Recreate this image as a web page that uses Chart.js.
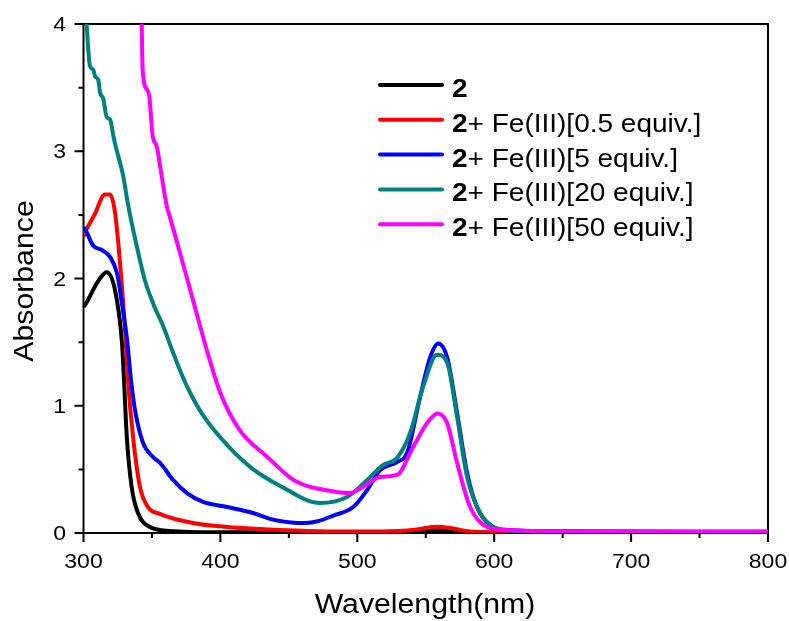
<!DOCTYPE html>
<html>
<head>
<meta charset="utf-8">
<script src="https://cdn.jsdelivr.net/npm/chart.js@4.4.1/dist/chart.umd.min.js"></script>
<style>
  html, body { margin: 0; padding: 0; background: #fff; }
  #wrap { width: 789px; height: 621px; }
</style>
</head>
<body>
<div id="wrap"><canvas id="absChart" width="789" height="621"></canvas></div>
<script>
// legend text: bold part + normal part
const seriesBold = ["2", "2", "2", "2", "2"];
const seriesRest = ["", "+ Fe(III)[0.5 equiv.]", "+ Fe(III)[5 equiv.]", "+ Fe(III)[20 equiv.]", "+ Fe(III)[50 equiv.]"];
const seriesColors = ["#000000", "#ff0000", "#0000ff", "#008080", "#ff00ff"];

// compound 2 alone
const wlFree  = [300, 301, 308, 312, 317, 323, 328, 329.6, 331.6, 335.2, 339.8, 348.6, 363, 400, 500, 540, 558, 575, 600, 800];
const absFree = [1.78, 1.79, 1.93, 2.0, 2.05, 1.91, 1.51, 1.2, 0.76, 0.36, 0.157, 0.047, 0.016, 0.006, 0.005, 0.008, 0.024, 0.008, 0.004, 0.003];

// + 0.5 equiv
const wlHalf  = [300, 301, 308, 315.7, 319.4, 323, 326.7, 330.3, 332.5, 336.2, 341.3, 347.1, 356, 380, 405, 429, 463, 500, 530, 545, 558, 570, 582, 600, 800];
const absHalf = [2.33, 2.36, 2.5, 2.66, 2.66, 2.52, 2.12, 1.6, 1.2, 0.755, 0.36, 0.204, 0.149, 0.079, 0.047, 0.031, 0.016, 0.012, 0.016, 0.03, 0.05, 0.035, 0.012, 0.005, 0.003];

// + 5 equiv
const wl5  = [300, 301, 307, 314, 319.4, 324.5, 328, 331.8, 334.7, 337.6, 343.5, 350.8, 356, 365.4, 375.6, 387.3, 404.8, 423.8, 438.4, 450, 462, 472, 482, 497, 507.2, 516.6, 529, 536.4, 545.9, 553.2, 559, 565.6, 572.9, 580.2, 587.4, 597, 609, 650, 800];
const abs5 = [2.4, 2.39, 2.26, 2.22, 2.17, 2.04, 1.81, 1.52, 1.2, 0.967, 0.708, 0.597, 0.55, 0.417, 0.314, 0.244, 0.204, 0.157, 0.105, 0.085, 0.078, 0.095, 0.135, 0.204, 0.338, 0.495, 0.558, 0.63, 1.07, 1.38, 1.49, 1.38, 0.943, 0.472, 0.204, 0.063, 0.024, 0.013, 0.01];

// + 20 equiv
const wl20  = [300, 302.3, 304.7, 307.2, 308.4, 310.8, 312.1, 314.5, 316.9, 319.4, 320.6, 321.8, 329.1, 332.7, 339, 345, 351, 358, 365, 372, 378, 387, 405, 424, 449, 465.5, 472.8, 492.5, 507.2, 518.9, 529, 538.6, 548.1, 558.3, 565.6, 572.9, 580.2, 589.7, 599.2, 610, 650, 800];
const abs20 = [4.3, 3.99, 3.67, 3.64, 3.59, 3.56, 3.46, 3.41, 3.27, 3.25, 3.2, 3.12, 2.8, 2.57, 2.25, 1.98, 1.8, 1.63, 1.43, 1.24, 1.1, 0.93, 0.69, 0.5, 0.338, 0.248, 0.236, 0.283, 0.417, 0.535, 0.59, 0.786, 1.15, 1.4, 1.34, 0.912, 0.44, 0.157, 0.047, 0.02, 0.012, 0.01];

// + 50 equiv
const wl50  = [341, 342.5, 343.2, 346.6, 348.1, 350.5, 353.5, 356, 360.8, 363.2, 370.5, 380, 390, 400, 414, 434, 453, 465.5, 472.8, 494.7, 504.2, 516.6, 529, 540.8, 551, 558.7, 565.6, 572.9, 582.4, 594.8, 609.3, 650, 800];
const abs50 = [4.4, 3.99, 3.64, 3.48, 3.43, 3.12, 3.04, 2.88, 2.57, 2.48, 2.2, 1.83, 1.44, 1.1, 0.81, 0.6, 0.42, 0.362, 0.346, 0.314, 0.362, 0.44, 0.456, 0.676, 0.865, 0.94, 0.865, 0.55, 0.204, 0.047, 0.024, 0.012, 0.01];

const xTicks = [300, 400, 500, 600, 700, 800];
const yTicks = [0, 1, 2, 3, 4];

const allWl = [wlFree, wlHalf, wl5, wl20, wl50];
const allAbs = [absFree, absHalf, abs5, abs20, abs50];

function pairs(xs, ys) {
  return xs.map((x, i) => ({ x: x, y: ys[i] }));
}

const FONT = "'Liberation Sans', Arial, sans-serif";

// text slightly wider than Arial, like the original
function wideText(ctx, txt, x, y, align, k) {
  ctx.save();
  ctx.translate(x, y);
  ctx.scale(k, 1);
  ctx.textAlign = align;
  ctx.fillText(txt, 0, 0);
  ctx.restore();
}

const framePlugin = {
  id: 'frame',
  beforeDatasetsDraw(chart) {
    const ctx = chart.ctx;
    const a = chart.chartArea;
    const xs = chart.scales.x, ys = chart.scales.y;
    ctx.save();
    ctx.strokeStyle = '#000';
    ctx.lineWidth = 2;
    ctx.strokeRect(a.left, a.top, a.right - a.left, a.bottom - a.top);
    // ticks pointing out
    ctx.beginPath();
    for (let v = 300; v <= 800; v += 50) {
      const px = xs.getPixelForValue(v);
      const len = v % 100 === 0 ? 9 : 5;
      ctx.moveTo(px, a.bottom);
      ctx.lineTo(px, a.bottom + len);
    }
    for (let v = 0; v <= 4; v += 0.5) {
      const py = ys.getPixelForValue(v);
      const len = v % 1 === 0 ? 9 : 5;
      ctx.moveTo(a.left, py);
      ctx.lineTo(a.left - len, py);
    }
    ctx.stroke();

    ctx.fillStyle = '#000';
    ctx.textBaseline = 'alphabetic';
    ctx.font = '20px ' + FONT;
    xTicks.forEach(v => wideText(ctx, String(v), xs.getPixelForValue(v), 568, 'center', 1.15));
    yTicks.forEach(v => wideText(ctx, String(v), 66, ys.getPixelForValue(v) + 7, 'right', 1.15));

    ctx.font = '27px ' + FONT;
    wideText(ctx, 'Wavelength(nm)', 425, 613, 'center', 1.12);
    ctx.save();
    ctx.translate(33, 281);
    ctx.rotate(-Math.PI / 2);
    wideText(ctx, 'Absorbance', 0, 0, 'center', 1.12);
    ctx.restore();
    ctx.restore();
  },
  afterDatasetsDraw(chart) {
    const ctx = chart.ctx;
    ctx.save();
    for (let i = 0; i < seriesColors.length; i++) {
      const y = 85 + i * 34.8;
      ctx.strokeStyle = seriesColors[i];
      ctx.lineWidth = 4;
      ctx.lineCap = 'round';
      ctx.beginPath();
      ctx.moveTo(380, y);
      ctx.lineTo(442, y);
      ctx.stroke();

      ctx.fillStyle = '#000';
      ctx.font = 'bold 25px ' + FONT;
      wideText(ctx, seriesBold[i], 452, y + 12, 'left', 1.12);
      const w = ctx.measureText(seriesBold[i]).width * 1.12;
      ctx.font = '25px ' + FONT;
      wideText(ctx, seriesRest[i], 452 + w, y + 12, 'left', 1.12);
    }
    ctx.restore();
  }
};

const datasets = allWl.map((wl, i) => ({
  label: seriesBold[i] + seriesRest[i],
  data: pairs(wl, allAbs[i]),
  borderColor: seriesColors[i],
  backgroundColor: seriesColors[i],
  borderWidth: 4,
  pointRadius: 0,
  cubicInterpolationMode: 'monotone',
  order: seriesColors.length - i
}));

const absChart = new Chart(document.getElementById('absChart').getContext('2d'), {
  type: 'line',
  data: { datasets: datasets },
  options: {
    responsive: false,
    animation: false,
    layout: { padding: { top: 24, right: 21, left: 0, bottom: 0 } },
    scales: {
      x: {
        type: 'linear', min: 300, max: 800,
        ticks: { display: false },
        grid: { display: false },
        border: { display: false },
        afterFit: s => { s.height = 88; }
      },
      y: {
        min: 0, max: 4,
        ticks: { display: false },
        grid: { display: false },
        border: { display: false },
        afterFit: s => { s.width = 83.5; }
      }
    },
    plugins: {
      legend: { display: false },
      tooltip: { enabled: false }
    }
  },
  plugins: [framePlugin]
});
</script>
</body>
</html>
